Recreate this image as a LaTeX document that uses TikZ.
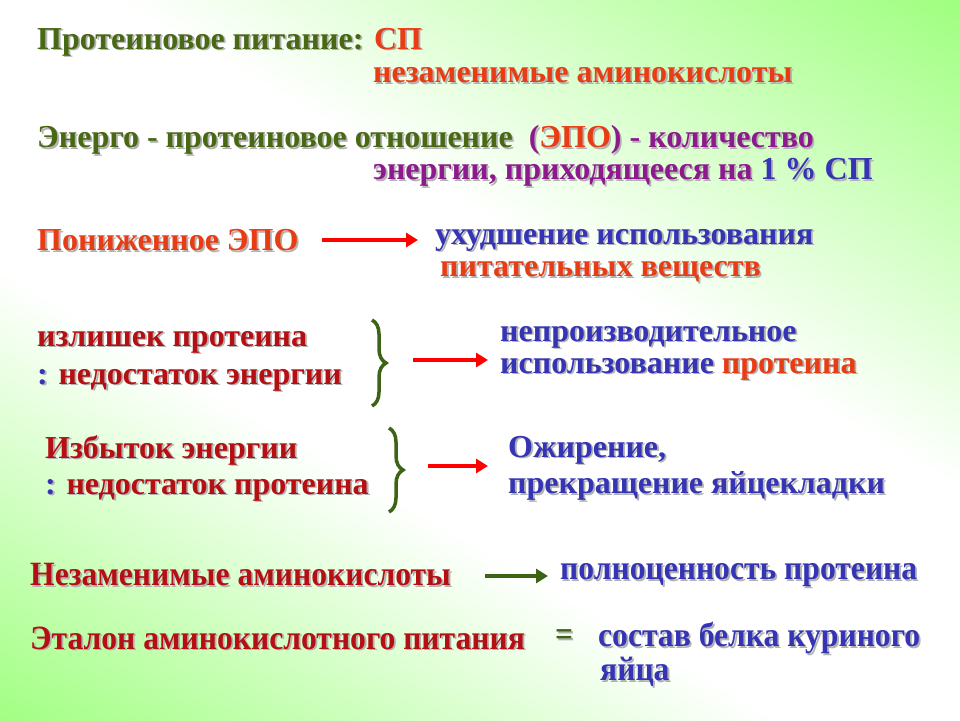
\documentclass[tikz,border=0pt]{standalone}
\usepackage{fontspec}
\setmainfont{Liberation Serif}
\newfontfamily\tnr{Liberation Serif}
\usetikzlibrary{decorations.pathreplacing,arrows.meta}
\definecolor{gbg}{HTML}{66FF33}
\definecolor{ol}{HTML}{486814}
\definecolor{rd}{HTML}{E83C14}
\definecolor{dr}{HTML}{B41014}
\definecolor{pu}{HTML}{8C1A8C}
\definecolor{bl}{HTML}{3434B4}
\definecolor{br}{HTML}{3C6414}
\pgfdeclarehorizontalshading{bgsh}{100bp}{color(0bp)=(gbg); color(40bp)=(white); color(58bp)=(white); color(100bp)=(gbg)}
\newcommand{\tc}[2]{\textcolor{#1}{#2}}
\tikzset{txt/.style={inner sep=0pt,font=\tnr\fontsize{32}{36}\selectfont\bfseries},
  narrow/.style={xscale=0.93,transform shape,font=\tnr\fontsize{34}{38}\selectfont\bfseries},
  arr/.style={line width=4pt,-{Triangle[length=12pt,width=14pt]}},
  brc/.style={decorate,decoration={brace,amplitude=14pt},line width=3.5pt,br}}
\newcommand{\both}[4]{%
  \begin{scope}[shift={(1.8,1.8)}]\node[txt,anchor=west,text=black!30,#4] at (#1) {\def\tc##1##2{##2}#3};\end{scope}
  \node[txt,anchor=west,#4] (#2) at (#1) {#3};}
\begin{document}
\begin{tikzpicture}[x=1pt,y=-1pt]
\shade[shading=bgsh,shading angle=60] (0,0) rectangle (960,720);
\useasboundingbox (0,0) rectangle (960,720);
\both{37,42}{l1}{\tc{ol}{Протеиновое питание:} \tc{rd}{СП}}{}
\both{373,75}{l2}{\tc{rd}{незаменимые аминокислоты}}{}
\both{37,140}{l3}{\tc{ol}{Энерго - протеиновое отношение}\ \ \tc{pu}{(}\tc{rd}{ЭПО}\tc{pu}{) - количество}}{}
\both{373,172}{l4}{\tc{pu}{энергии, приходящееся на} \tc{bl}{1 \% СП}}{}
\both{37,240}{a1}{\tc{rd}{Пониженное ЭПО}}{}
\both{435,240}{b1}{\tc{bl}{ухудшение\ использования}}{}
\both{440,272}{b2}{\tc{rd}{питательных\ веществ}}{}
\both{37,342}{c1}{\tc{dr}{излишек протеина}}{}
\both{37,380}{c2}{\tc{bl}{:} \tc{dr}{недостаток энергии}}{}
\both{500,337}{d1}{\tc{bl}{непроизводительное}}{}
\both{500,369}{d2}{\tc{bl}{использование} \tc{rd}{протеина}}{}
\both{45,450}{e1}{\tc{dr}{Избыток энергии}}{}
\both{45,490}{e2}{\tc{bl}{:} \tc{dr}{недостаток протеина}}{}
\both{508,450}{f1}{\tc{bl}{Ожирение,}}{}
\both{508,486}{f2}{\tc{bl}{прекращение яйцекладки}}{}
\both{30,575}{g1}{\tc{dr}{Незаменимые аминокислоты}}{narrow}
\both{560,575}{h1}{\tc{bl}{полноценность\ протеина}}{narrow}
\both{30,638}{i1}{\tc{dr}{Эталон аминокислотного питания}}{narrow}
\both{555,638}{eq}{\tc{br}{=}}{narrow}
\both{598,638}{j1}{\tc{bl}{состав белка куриного}}{narrow}
\both{600,672}{j2}{\tc{bl}{яйца}}{narrow}
% arrows
\coordinate (a1e) at (322,240); \coordinate (b1w) at (418,240);
\draw[arr,red] (a1e) -- (b1w);
\coordinate (c3) at (413,360); \coordinate (d3) at (488,360);
\draw[arr,red] (c3) -- (d3);
\coordinate (e3) at (428,466); \coordinate (f3) at (488,466);
\draw[arr,red] (e3) -- (f3);
\coordinate (g3) at (485,576); \coordinate (h3) at (548,576);
\draw[arr,br] (g3) -- (h3);
% braces
\coordinate (bt1) at (372,320); \coordinate (bb1) at (372,406);
\draw[brc] (bt1) -- (bb1);
\coordinate (bt2) at (389,428); \coordinate (bb2) at (389,512);
\draw[brc] (bt2) -- (bb2);
\end{tikzpicture}
\end{document}
